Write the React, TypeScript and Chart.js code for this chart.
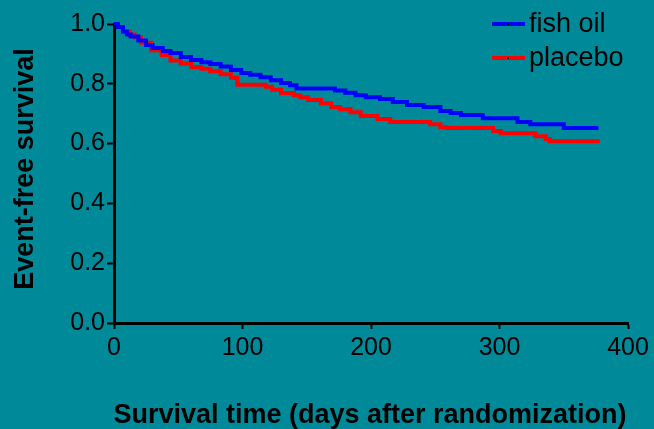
import React, { useEffect, useRef } from "react";
import { Chart, registerables } from "chart.js";

Chart.register(...registerables);

const seriesNames = ["fish oil", "placebo"];
const seriesColors = ["#0000FF", "#FF0000"];

const fishOilDays = [0, 3, 7, 10, 13, 19, 25, 30, 38, 44, 52, 60, 68, 75, 83, 91, 99, 106, 114, 122, 130, 137, 142, 172, 180, 188, 196, 207, 217, 228, 241, 254, 262, 270, 287, 314, 324, 350, 377];
const fishOilSurvival = [1.0, 0.99, 0.975, 0.965, 0.958, 0.945, 0.93, 0.92, 0.91, 0.903, 0.89, 0.88, 0.872, 0.866, 0.858, 0.846, 0.836, 0.83, 0.822, 0.812, 0.803, 0.795, 0.784, 0.778, 0.77, 0.762, 0.755, 0.749, 0.739, 0.729, 0.722, 0.709, 0.702, 0.696, 0.685, 0.672, 0.665, 0.652, 0.652];

const placeboDays = [0, 3, 7, 12, 16, 21, 29, 37, 44, 52, 60, 68, 75, 83, 91, 96, 118, 123, 130, 140, 145, 151, 161, 169, 176, 184, 192, 205, 215, 246, 254, 259, 295, 301, 328, 336, 339, 378];
const placeboSurvival = [1.0, 0.99, 0.975, 0.965, 0.955, 0.937, 0.912, 0.896, 0.878, 0.868, 0.856, 0.85, 0.842, 0.832, 0.82, 0.797, 0.79, 0.78, 0.769, 0.762, 0.755, 0.746, 0.735, 0.722, 0.715, 0.705, 0.692, 0.682, 0.672, 0.665, 0.655, 0.652, 0.642, 0.635, 0.625, 0.615, 0.608, 0.608];

const xTitle = "Survival time (days after randomization)";
const yTitle = "Event-free survival";

const BG = "rgb(0,138,153)";
const FONT = "'Liberation Sans', Arial, sans-serif";

const toPoints = (xs: number[], ys: number[]) => xs.map((x, i) => ({ x, y: ys[i] }));

const decorPlugin = {
  id: "decor",
  beforeDraw(chart: any) {
    const ctx = chart.ctx;
    ctx.save();
    ctx.fillStyle = BG;
    ctx.fillRect(0, 0, chart.width, chart.height);
    ctx.restore();
  },
  afterDraw(chart: any) {
    const ctx = chart.ctx;
    ctx.save();
    ctx.fillStyle = "#000";
    // x title
    ctx.font = `bold 27px ${FONT}`;
    ctx.textAlign = "center";
    ctx.textBaseline = "alphabetic";
    ctx.fillText(xTitle, 370, 423);
    // y title
    ctx.save();
    ctx.translate(33, 169);
    ctx.rotate(-Math.PI / 2);
    ctx.fillText(yTitle, 0, 0);
    ctx.restore();
    // legend
    const rows = [24, 58];
    ctx.font = `27px ${FONT}`;
    ctx.textAlign = "left";
    ctx.textBaseline = "middle";
    seriesNames.forEach((name, i) => {
      const y = rows[i];
      ctx.strokeStyle = seriesColors[i];
      ctx.lineWidth = 4;
      ctx.beginPath();
      ctx.moveTo(492, y);
      ctx.lineTo(525, y);
      ctx.stroke();
      ctx.fillStyle = "#000";
      ctx.fillRect(507, y - 1, 2, 2);
      ctx.fillText(name, 529, y + 1);
    });
    ctx.restore();
  },
};

export default function App() {
  const ref = useRef<HTMLCanvasElement | null>(null);
  useEffect(() => {
    if (!ref.current) return;
    const chart = new Chart(ref.current, {
      type: "line",
      data: {
        datasets: [
          {
            label: seriesNames[0],
            data: toPoints(fishOilDays, fishOilSurvival),
            borderColor: seriesColors[0],
            borderWidth: 4,
            pointRadius: 0,
            stepped: true,
            fill: false,
            clip: false as any,
          },
          {
            label: seriesNames[1],
            data: toPoints(placeboDays, placeboSurvival),
            borderColor: seriesColors[1],
            borderWidth: 4,
            pointRadius: 0,
            stepped: true,
            fill: false,
            clip: false as any,
          },
        ],
      },
      options: {
        animation: false,
        responsive: false,
        maintainAspectRatio: false,
        layout: { padding: { top: 24, right: 26, left: 0, bottom: 0 } },
        plugins: { legend: { display: false }, tooltip: { enabled: false }, title: { display: false } },
        scales: {
          x: {
            type: "linear",
            min: 0,
            max: 400,
            afterFit: (s: any) => { s.height = 106; },
            ticks: { stepSize: 100, color: "#000", font: { family: FONT, size: 25 }, padding: 4, maxRotation: 0 },
            grid: { drawOnChartArea: false, drawTicks: true, tickLength: 6, tickColor: "#000", tickWidth: 2 },
            border: { display: true, color: "#000", width: 3 },
          },
          y: {
            type: "linear",
            min: 0,
            max: 1,
            afterFit: (s: any) => { s.width = 114; },
            ticks: { stepSize: 0.2, color: "#000", font: { family: FONT, size: 25 }, padding: 2, callback: (v: any) => Number(v).toFixed(1) },
            grid: { drawOnChartArea: false, drawTicks: true, tickLength: 7, tickColor: "#000", tickWidth: 2 },
            border: { display: true, color: "#000", width: 3 },
          },
        },
      },
      plugins: [decorPlugin],
    });
    return () => chart.destroy();
  }, []);
  return (
    <div style={{ position: "fixed", left: 0, top: 0, width: 654, height: 429, background: BG }}>
      <canvas ref={ref} width={654} height={429} style={{ display: "block", width: 654, height: 429 }} />
    </div>
  );
}
